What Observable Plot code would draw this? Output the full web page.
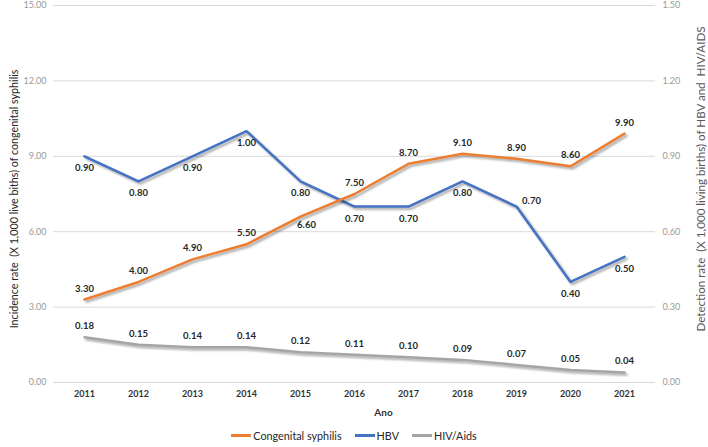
<!DOCTYPE html>
<html>
<head>
<meta charset="utf-8">
<script src="https://cdn.jsdelivr.net/npm/d3@7"></script>
<script src="https://cdn.jsdelivr.net/npm/@observablehq/plot@0.6"></script>
<style>
  html, body { margin: 0; padding: 0; background: #fff; }
  #chart { width: 708px; height: 447px; position: relative; font-family: Lato, "Open Sans", sans-serif; }
  #chart svg { display: block; }
  #chart g[aria-label="line"] path { filter: drop-shadow(2px 2px 1.2px rgba(0,0,0,0.35)); }
  .legend { display: flex; justify-content: center; align-items: center; gap: 13px; height: 23px; font-size: 10.8px; color: #262626; font-family: Lato, sans-serif; }
  .legend span.item { display: inline-flex; align-items: center; }
  .legend i { display: inline-block; width: 20px; height: 3px; margin-right: 2px; }
</style>
</head>
<body>
<div id="chart"></div>
<script>
const years = ["2011","2012","2013","2014","2015","2016","2017","2018","2019","2020","2021"];
const syphilis = [3.30, 4.00, 4.90, 5.50, 6.60, 7.50, 8.70, 9.10, 8.90, 8.60, 9.90];
const hbv = [0.90, 0.80, 0.90, 1.00, 0.80, 0.70, 0.70, 0.80, 0.70, 0.40, 0.50];
const hiv = [0.18, 0.15, 0.14, 0.14, 0.12, 0.11, 0.10, 0.09, 0.07, 0.05, 0.04];
const leftTicks = [0, 3, 6, 9, 12, 15];
const seriesNames = ["Congenital syphilis", "HBV", "HIV/Aids"];
const colors = ["#ED7D31", "#4472C4", "#A5A5A5"];
const leftTitle = "Incidence rate  (X 1,000 live biths) of congenital syphilis";
const rightTitle = "Detection rate  (X 1,000 living births) of HBV and  HIV/AIDS";
const xTitle = "Ano";

const rows = years.map((year, i) => ({year, syphilis: syphilis[i], hbv: hbv[i], hiv: hiv[i]}));
const R = 10; // right axis (0–1.5) mapped onto left axis (0–15)

const labelStyle = {fontWeight: "bold", fontSize: 9.5, fill: "#262626", fontFamily: "Lato, sans-serif"};

const plot = Plot.plot({
  width: 708,
  height: 424,
  marginTop: 5,
  marginBottom: 42,
  marginLeft: 53,
  marginRight: 53,
  style: {fontFamily: "Lato, sans-serif", background: "#fff", overflow: "visible"},
  x: {type: "point", domain: years, padding: 0.5},
  y: {domain: [0, 15]},
  marks: [
    Plot.gridY(leftTicks, {stroke: "#d9d9d9", strokeOpacity: 1, strokeWidth: 1}),
    Plot.axisY(leftTicks, {anchor: "left", tickSize: 0, tickPadding: 7, tickFormat: d => d.toFixed(2), fontSize: 9, fill: "#999", label: null}),
    Plot.axisY(leftTicks, {anchor: "right", tickSize: 0, tickPadding: 7, tickFormat: d => (d / R).toFixed(2), fontSize: 9, fill: "#999", label: null}),
    Plot.axisX({tickSize: 0, tickPadding: 8, fontSize: 9, fontWeight: "bold", fill: "#333", label: null}),
    Plot.text([leftTitle], {frameAnchor: "left", textAnchor: "middle", dx: -39, dy: 5, rotate: -90, fontSize: 10.7, fill: "#262626", text: d => d}),
    Plot.text([rightTitle], {frameAnchor: "right", textAnchor: "middle", dx: 46, dy: -15, rotate: -90, fontSize: 11.6, fill: "#595959", text: d => d}),
    Plot.text([xTitle], {frameAnchor: "bottom", dx: 29, dy: 33, fontSize: 10, fontWeight: "bold", fill: "#333", text: d => d}),
    Plot.lineY(rows, {x: "year", y: d => d.hiv * R, stroke: colors[2], strokeWidth: 2.5}),
    Plot.lineY(rows, {x: "year", y: d => d.hbv * R, stroke: colors[1], strokeWidth: 2.5}),
    Plot.lineY(rows, {x: "year", y: "syphilis", stroke: colors[0], strokeWidth: 2.5}),
    // syphilis labels
    Plot.text(rows, {filter: d => d.year !== "2015", x: "year", y: "syphilis", text: d => d.syphilis.toFixed(2), dy: -11, ...labelStyle}),
    Plot.text(rows, {filter: d => d.year === "2015", x: "year", y: "syphilis", text: d => d.syphilis.toFixed(2), dx: 6, dy: 8, ...labelStyle}),
    // HBV labels
    Plot.text(rows, {filter: d => d.year !== "2019", x: "year", y: d => d.hbv * R, text: d => d.hbv.toFixed(2), dy: 12, ...labelStyle}),
    Plot.text(rows, {filter: d => d.year === "2019", x: "year", y: d => d.hbv * R, text: d => d.hbv.toFixed(2), dx: 15, dy: -6, ...labelStyle}),
    // HIV labels
    Plot.text(rows, {x: "year", y: d => d.hiv * R, text: d => d.hiv.toFixed(2), dy: -11, ...labelStyle})
  ]
});

const chart = document.getElementById("chart");
chart.appendChild(plot);

const legend = document.createElement("div");
legend.className = "legend";
seriesNames.forEach((name, i) => {
  const item = document.createElement("span");
  item.className = "item";
  const sw = document.createElement("i");
  sw.style.background = colors[i];
  item.appendChild(sw);
  item.appendChild(document.createTextNode(name));
  legend.appendChild(item);
});
chart.appendChild(legend);
</script>
</body>
</html>
